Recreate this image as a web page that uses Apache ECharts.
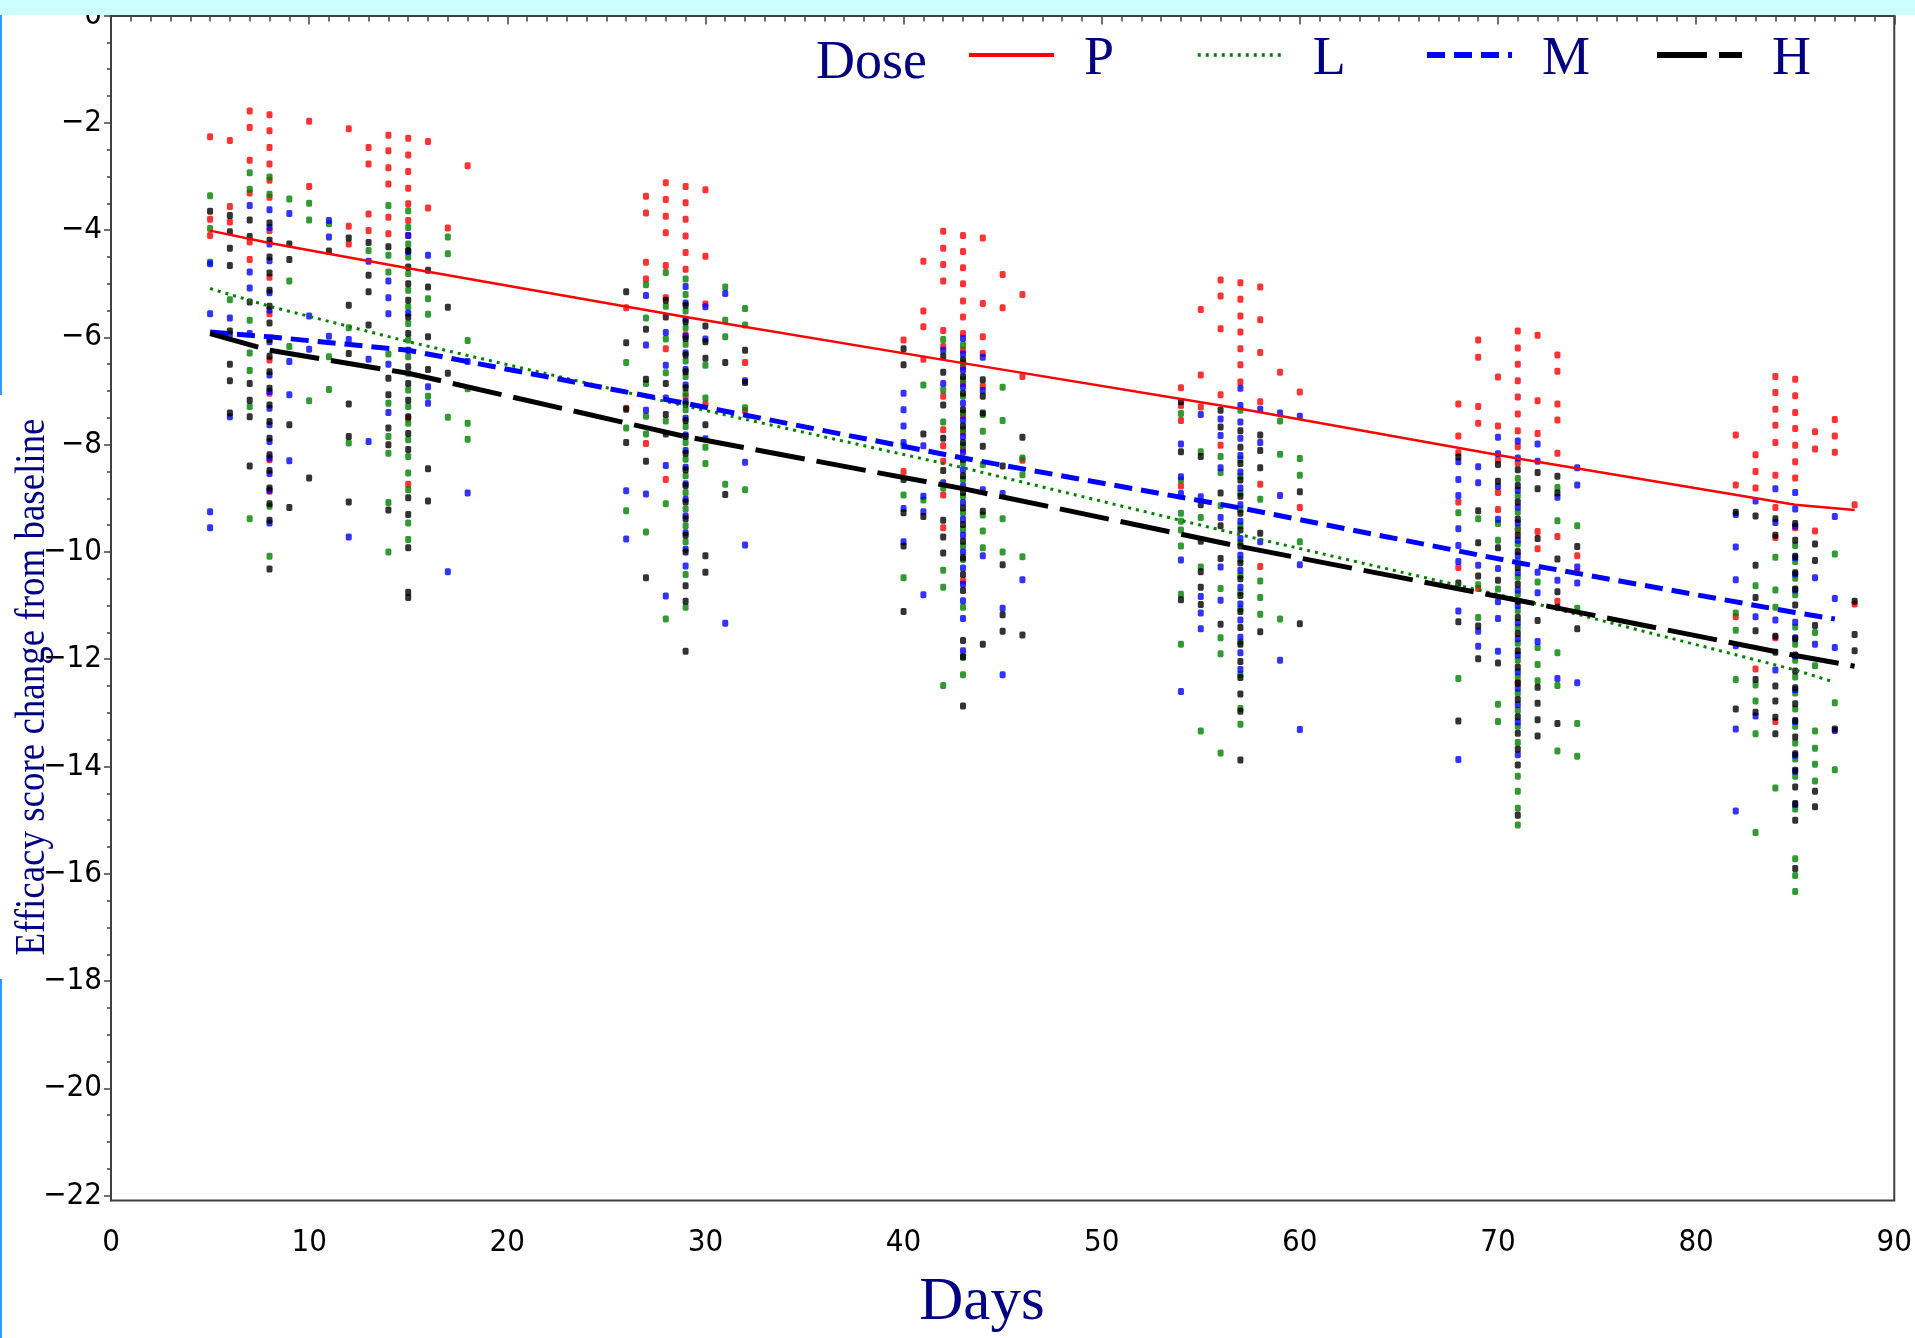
<!DOCTYPE html>
<html>
<head>
<meta charset="utf-8">
<script src="https://cdn.jsdelivr.net/npm/echarts@6/dist/echarts.min.js"></script>
<style>
html,body{margin:0;padding:0;background:#fff;}
#chart{width:1915px;height:1338px;}
</style>
</head>
<body>
<div id="chart"></div>
<script>
// ---- Data ----
const doseNames = ['P', 'L', 'M', 'H'];

// Dose P (red): observation days and values at each day
const daysP = [5,6,7,8,10,12,13,14,15,16,17,18,26,27,28,29,30,32,40,41,42,43,44,45,46,54,55,56,57,58,59,60,68,69,70,71,72,73,74,82,83,84,85,86,87,88];
const valsP = [
  [-2.26,-3.80,-4.10],[-2.33,-3.56,-3.85],[-1.78,-2.09,-2.70,-3.31,-4.22,-4.55],
  [-1.85,-2.15,-2.46,-2.77,-3.07,-3.39,-4.01,-4.88,-5.56,-6.42,-7.04,-8.28,-8.87],
  [-1.97,-3.19],[-2.11,-3.93,-4.26],[-2.46,-2.77,-3.70,-4.01],[-2.23,-2.52,-2.84,-3.14,-3.76,-4.07],
  [-2.29,-2.60,-2.91,-3.22,-3.51,-3.82,-4.10,-7.51,-8.74],[-2.35,-3.59],[-3.96],[-2.80],
  [-5.45,-7.32],[-3.37,-3.68,-4.60,-4.91,-7.98],[-3.12,-3.43,-3.74,-4.05,-4.66,-5.26,-6.21,-8.65],
  [-3.19,-3.49,-3.80,-4.11,-4.42,-4.73,-5.95,-7.10],[-3.25,-4.49,-5.38,-7.24],[-6.47,-7.37],
  [-6.05,-8.50],[-4.58,-5.51,-5.80,-6.41],[-4.02,-4.34,-4.64,-4.95,-5.87,-6.17,-7.10,-7.72,-8.02,-8.31,-8.94,-9.55],
  [-4.10,-4.40,-4.70,-5.00,-5.32,-5.62,-5.93,-6.24,-6.55,-6.86,-7.46,-7.77,-8.09,-10.54],
  [-4.15,-5.37,-5.99,-6.30,-6.91],[-4.83,-5.45],[-5.20,-6.73,-8.29],
  [-6.94,-7.27,-7.55,-8.77],[-5.48,-6.70,-7.30],[-4.93,-5.23,-5.84,-7.07,-8.01],
  [-4.98,-5.29,-5.60,-5.90,-6.21,-6.51,-6.83],[-5.06,-5.67,-6.28,-7.20,-8.74,-10.27],[-6.65],[-7.02,-9.17],
  [-7.24,-7.84,-8.15,-9.07,-10.29],[-6.05,-6.37,-7.29,-7.60,-10.68],[-6.74,-7.65,-8.28,-8.89,-9.21],
  [-5.88,-6.20,-6.50,-6.81,-7.11,-7.43,-7.74,-8.04,-8.34,-9.59,-12.44],[-5.96,-7.18,-7.79,-9.62,-9.94],
  [-6.33,-6.63,-7.24,-7.54,-8.16,-9.71,-10.92],[-10.07,-10.38],
  [-7.82,-8.75,-11.21],[-8.19,-8.50,-8.81,-12.18],[-6.73,-7.03,-7.34,-7.64,-7.96,-8.57,-9.17,-9.73,-11.60,-13.16],
  [-6.78,-7.09,-7.40,-7.70,-8.01,-8.32,-8.62,-9.55],[-7.76,-8.08,-9.61],[-7.53,-7.84,-8.14],[-9.12,-10.97]
];

// Dose L (green)
const daysL = [5,6,7,8,9,10,11,12,13,14,15,16,17,18,26,27,28,29,30,31,32,40,41,42,43,44,45,46,54,55,56,57,58,59,60,68,69,70,71,72,73,74,82,83,84,85,86,87];
const valsL = [
  [-3.36,-3.97,-4.60],[-5.30],[-2.93,-3.24,-5.68,-6.29,-6.62,-7.29,-9.38],[-3.01,-3.33,-9.15,-10.08],
  [-3.42,-4.95,-6.17],[-3.50,-3.81,-7.18],[-3.88,-6.36,-6.97],[-5.82,-7.97],[-4.38],
  [-3.54,-4.47,-4.78,-6.31,-7.23,-7.85,-8.16,-9.08,-10.00],
  [-3.64,-3.95,-4.26,-4.50,-4.81,-5.12,-5.43,-5.74,-6.05,-6.36,-6.67,-6.98,-7.29,-7.60,-7.91,-8.22,-8.53,-8.84,-9.46,-9.77],
  [-5.28,-5.57,-7.10],[-4.13,-4.44,-7.49],[-6.06,-6.96,-7.60,-7.90],
  [-6.47,-7.69,-9.23],[-5.02,-5.64,-6.86,-7.47,-7.80,-9.63],[-4.79,-5.42,-6.03,-6.66,-7.56,-9.10,-11.25],
  [-4.91,-5.20,-5.51,-5.82,-6.13,-6.44,-6.73,-7.04,-7.35,-7.66,-7.96,-8.27,-8.58,-8.89,-9.20,-9.51,-9.81,-10.42,-11.03],
  [-6.52,-7.13,-8.05,-8.35],[-5.06,-5.68,-5.99,-8.74],[-5.46,-5.77,-7.31,-8.84],
  [-8.02,-8.94,-10.48],[-6.89,-9.03],[-6.04,-6.98,-7.58,-8.81,-10.34,-10.66,-12.49],
  [-6.14,-6.48,-6.79,-7.10,-7.41,-7.72,-8.02,-8.34,-8.65,-8.96,-9.27,-9.58,-9.89,-10.14,-11.03,-11.96,-12.29],
  [-7.44,-7.75,-8.37,-9.31,-9.61,-9.92],[-6.93,-7.55,-9.38,-10.00],[-8.25,-8.56,-10.09],
  [-7.42,-8.66,-9.28,-9.43,-9.59,-9.89,-10.79,-11.72],[-8.13,-9.36,-10.28,-13.34],[-8.22,-8.52,-9.14,-10.68,-11.60,-11.90,-13.75],
  [-7.36,-8.27,-8.59,-8.90,-9.21,-9.51,-9.83,-10.14,-10.44,-10.75,-11.06,-11.68,-12.29,-12.92,-13.21],
  [-9.02,-10.54,-10.85,-11.16],[-7.56,-8.18,-11.25],[-8.26,-8.57,-9.81],
  [-9.27,-12.36],[-9.38,-10.61,-11.22],[-9.47,-9.78,-10.69,-12.84,-13.16],
  [-8.63,-8.95,-9.26,-9.56,-9.85,-10.18,-10.47,-10.79,-11.09,-11.41,-11.70,-12.02,-12.33,-12.63,-12.95,-13.25,-13.55,-14.18,-14.46,-14.78,-15.09],
  [-10.56,-11.78,-12.10,-12.40],[-8.80,-9.42,-11.88,-12.49,-13.71],[-9.51,-11.05,-13.20,-13.81],
  [-11.14,-11.46,-12.38],[-10.63,-12.48,-12.78,-13.39,-15.23],[-10.10,-10.71,-11.03,-14.40],
  [-9.88,-10.18,-10.49,-10.80,-11.40,-11.72,-12.02,-12.33,-12.63,-12.93,-13.25,-13.56,-13.86,-14.18,-14.79,-15.72,-16.03,-16.33],
  [-11.50,-12.12,-13.34,-13.66,-13.96,-14.27],[-10.04,-12.81,-14.06]
];

// Dose M (blue)
const daysM = [5,6,7,8,9,10,11,12,13,14,15,16,17,18,26,27,28,29,30,31,32,40,41,42,43,44,45,46,54,55,56,57,58,59,60,68,69,70,71,72,73,74,82,83,84,85,86,87];
const valsM = [
  [-4.63,-5.56,-9.25,-9.55],[-5.64,-5.94,-7.48],[-3.54,-4.78,-5.08,-5.93],
  [-3.62,-3.95,-4.26,-4.57,-5.17,-5.49,-6.08,-6.70,-7.01,-7.32,-7.63,-7.94,-8.25,-8.54,-8.85,-9.46],
  [-3.69,-6.45,-7.07,-8.30],[-5.60,-6.22],[-3.82,-4.13,-5.98],[-6.04,-9.72],[-4.58,-6.41,-7.94],
  [-4.95,-5.26,-5.56,-6.50,-7.40],[-4.10,-4.40,-5.55],[-4.47,-6.92,-7.23],[-10.37],[-6.45,-8.90],
  [-8.86,-9.76],[-5.22,-6.14,-7.36,-8.92],[-5.91,-6.52,-7.13,-8.39,-10.82],
  [-5.05,-5.36,-5.66,-5.98,-6.29,-6.60,-6.89,-7.20,-7.51,-7.82,-8.11,-8.42,-8.73,-9.02,-9.33,-9.64,-9.95,-10.26],
  [-5.43,-6.03,-7.89],[-5.18,-11.33],[-6.81,-8.33,-9.87],
  [-7.04,-7.35,-7.65,-7.96,-9.19,-9.81],[-8.02,-8.96,-9.25,-10.80],[-6.24,-6.86,-8.71],
  [-6.02,-6.31,-6.61,-6.92,-7.23,-7.54,-7.85,-8.14,-8.47,-8.77,-9.08,-9.39,-9.69,-10.00,-10.30,-10.60,-10.91,-11.24,-11.84],
  [-6.37,-6.99,-8.84,-10.07],[-8.91,-11.05,-12.29],[-10.52],
  [-7.99,-8.60,-8.91,-10.15,-12.60],[-7.44,-8.97,-10.83,-11.14,-11.43],[-7.52,-7.83,-8.43,-9.36,-10.28,-10.90],
  [-6.95,-7.27,-7.58,-7.88,-8.20,-8.51,-8.81,-9.12,-9.43,-9.75,-10.06,-10.34,-10.66,-10.97,-11.27,-11.59,-11.88,-12.19],
  [-7.34,-7.96,-9.81],[-7.41,-8.95,-12.02],[-7.47,-10.24,-13.31],
  [-8.32,-8.65,-8.95,-9.57,-9.88,-10.18,-11.10,-13.87],[-8.41,-8.71,-10.25,-11.48,-11.76],
  [-7.86,-8.17,-8.78,-9.39,-10.31,-10.93,-11.24,-11.85],
  [-7.93,-8.25,-8.85,-9.16,-9.46,-9.78,-10.07,-10.39,-10.71,-11.00,-11.32,-11.62,-11.92,-12.24,-12.54,-12.85,-13.17,-13.78],
  [-7.99,-8.31,-10.38,-10.76,-11.67],[-8.98,-10.53,-12.36],[-8.43,-8.75,-10.28,-10.58,-12.44],
  [-9.30,-9.91,-10.52,-11.75,-13.30,-14.83],[-9.05,-11.21,-13.06],[-8.82,-9.45,-11.27,-12.20],
  [-8.89,-9.20,-9.52,-10.11,-10.41,-10.71,-11.31,-11.60,-11.94,-12.57,-13.16,-13.79,-14.09,-14.71],
  [-10.48,-11.72],[-9.34,-10.87,-11.78,-13.33]
];

// Dose H (black)
const daysH = [5,6,7,8,9,10,11,12,13,14,15,16,17,26,27,28,29,30,31,32,40,41,42,43,44,45,46,54,55,56,57,58,60,68,69,70,71,72,73,74,82,83,84,85,86,87,88];
const valsH = [
  [-3.65],[-3.73,-4.03,-4.34,-4.66,-5.88,-6.50,-6.81,-7.41],[-3.81,-4.12,-5.34,-6.86,-7.17,-7.48,-8.40],
  [-3.87,-4.19,-4.50,-4.80,-5.12,-5.42,-5.73,-6.04,-6.35,-6.64,-6.95,-7.26,-7.57,-7.88,-8.19,-8.48,-8.81,-9.10,-9.41,-10.32],
  [-4.26,-4.55,-7.63,-9.17],[-8.62],[-4.39],[-4.15,-5.40,-6.30,-7.24,-7.85,-9.07],[-4.23,-4.84,-5.15,-5.77],
  [-4.31,-6.76,-7.07,-7.69,-8.00,-9.22],
  [-4.38,-4.69,-5.00,-5.31,-5.62,-5.93,-6.24,-6.55,-6.86,-7.17,-7.48,-7.79,-8.09,-8.99,-9.30,-9.92,-10.75,-10.85],
  [-4.75,-5.06,-5.99,-6.60,-8.45,-9.05],[-5.44,-6.67],
  [-5.15,-6.10,-7.34,-7.96],[-5.85,-6.78,-8.31,-10.48],[-5.31,-5.62,-6.86,-7.44,-7.80],
  [-5.40,-5.71,-6.02,-6.33,-6.64,-6.94,-7.24,-7.55,-7.85,-8.16,-8.47,-8.76,-9.07,-9.38,-9.69,-10.00,-10.63,-10.92,-11.85],
  [-5.79,-6.08,-6.39,-7.63,-10.07,-10.38],[-6.47,-8.93],[-6.24,-6.84],
  [-6.21,-6.51,-8.65,-9.27,-9.89,-11.11],[-7.80,-9.34],[-6.35,-6.65,-7.26,-7.88,-8.48,-9.41,-9.72,-10.02],
  [-6.42,-6.73,-7.04,-7.35,-7.65,-7.96,-8.27,-8.58,-8.89,-9.18,-9.49,-9.80,-10.11,-10.42,-10.72,-11.65,-11.96,-12.87],
  [-6.79,-7.10,-7.41,-8.03,-9.24,-11.72],[-8.40,-10.24,-11.17,-11.48],[-7.86,-11.55],
  [-7.20,-8.13,-10.89],[-8.22,-9.12,-9.80,-10.37,-10.66,-10.98],[-7.36,-7.67,-8.90,-9.51,-10.12,-11.35],
  [-7.74,-8.05,-8.35,-8.66,-8.96,-9.28,-9.59,-9.89,-10.20,-10.50,-10.81,-11.11,-11.41,-11.72,-12.04,-12.34,-12.65,-12.97,-13.88],
  [-7.82,-8.11,-8.43,-9.65,-11.49],[-8.88,-11.34],
  [-8.23,-10.58,-11.30,-13.15],[-9.23,-9.83,-10.45,-11.38,-11.99],[-8.37,-8.68,-9.92,-10.53,-12.07],
  [-8.47,-8.76,-9.07,-9.39,-9.69,-9.99,-10.29,-10.60,-10.92,-11.22,-11.52,-11.84,-12.15,-12.45,-12.75,-13.07,-13.38,-13.68,-13.97,-14.91],
  [-8.52,-8.82,-9.75,-11.28,-12.52,-12.82,-13.13,-13.43],[-8.59,-8.90,-10.13,-10.74,-11.03,-13.20],[-9.90,-11.43],
  [-9.26,-12.93],[-9.33,-10.25,-10.85,-11.47,-12.38,-12.99],[-9.38,-9.69,-11.57,-11.87,-12.50,-12.78,-13.08,-13.39],
  [-9.47,-9.78,-10.08,-10.39,-10.69,-10.99,-11.62,-11.92,-12.22,-12.53,-12.83,-13.14,-13.45,-13.76,-14.07,-14.38,-14.69,-15.00,-15.90],
  [-9.85,-10.16,-11.37,-14.46,-14.75],[-13.30],[-10.92,-11.54,-11.84]
];

// Fitted trend lines (day, value)
const lineP = [[5,-4.01],[8,-4.24],[15,-4.71],[29,-5.62],[43,-6.48],[57,-7.33],[71,-8.26],[85,-9.12],[88,-9.22]];
const lineL = [[5,-5.09],[8,-5.42],[15,-6.08],[29,-7.28],[43,-8.43],[57,-9.68],[71,-10.88],[85,-12.20],[87,-12.43]];
const lineM = [[5,-5.90],[8,-5.99],[15,-6.24],[29,-7.23],[43,-8.25],[57,-9.18],[71,-10.20],[85,-11.13],[87,-11.25]];
const lineH = [[5,-5.93],[8,-6.24],[15,-6.67],[29,-7.85],[43,-8.82],[57,-9.90],[71,-10.90],[85,-11.93],[88,-12.13]];

// Axis ticks
const yMajorTicks = [-22,-20,-18,-16,-14,-12,-10,-8,-6,-4,-2,0];
const yMinorTicks = [-21.5,-21,-20.5,-19.5,-19,-18.5,-17.5,-17,-16.5,-15.5,-15,-14.5,-13.5,-13,-12.5,-11.5,-11,-10.5,
  -9.5,-9,-8.5,-7.5,-7,-6.5,-5.5,-5,-4.5,-3.5,-3,-2.5,-1.5,-1,-0.5];

const xTitle = 'Days';
const yTitle = 'Efficacy score change from baseline';
const legendTitle = 'Dose';

// ---- Build chart ----
function toPoints(days, vals) {
  const out = [];
  days.forEach((d, i) => vals[i].forEach(v => out.push([d, v])));
  return out;
}
const colors = { P: '#ff0000', L: '#008000', M: '#0000ff', H: '#000000' };
const pointSets = { P: toPoints(daysP, valsP), L: toPoints(daysL, valsL), M: toPoints(daysM, valsM), H: toPoints(daysH, valsH) };
const lineSets = { P: lineP, L: lineL, M: lineM, H: lineH };
const lineStyles = {
  P: { width: 2.5, type: 'solid', legendWidth: 4 },
  L: { width: 3, type: [3, 5], legendWidth: 3.5 },
  M: { width: 5, type: [18, 9], legendWidth: 6 },
  H: { width: 5, type: [50, 12], legendWidth: 6 }
};

const tickFont = '"Liberation Sans Narrow", "DejaVu Sans Condensed", sans-serif';
const serif = '"Liberation Serif", "DejaVu Serif", serif';
const navy = '#000080';
const axisColor = '#404040';
const yMin = -22.09;

const series = [];
doseNames.forEach(n => {
  series.push({
    name: n + ' obs', type: 'scatter', data: pointSets[n],
    symbol: 'roundRect', symbolSize: [6, 7],
    itemStyle: { color: colors[n] }, z: 2, silent: true
  });
});
doseNames.forEach(n => {
  series.push({
    name: n, type: 'line', data: lineSets[n], symbol: 'none', showSymbol: false,
    lineStyle: { color: colors[n], width: lineStyles[n].width, type: lineStyles[n].type, cap: 'butt' },
    itemStyle: { color: colors[n] }, z: 4, silent: true
  });
});

const legendLefts = [962, 1191, 1419, 1649];
const legends = doseNames.map((n, i) => ({
  data: [n], left: legendLefts[i], top: 28, orient: 'horizontal',
  itemWidth: 85, itemHeight: 20, selectedMode: false,
  itemStyle: { opacity: 0 },
  lineStyle: { width: lineStyles[n].legendWidth, type: lineStyles[n].type, color: colors[n] },
  formatter: '{t|{name}}',
  textStyle: {
    fontFamily: serif, fontSize: 54, color: navy,
    rich: { t: { fontFamily: serif, fontSize: 54, color: navy, padding: [10, 0, 0, 25] } }
  }
}));

const chart = echarts.init(document.getElementById('chart'), null, { renderer: 'canvas' });
chart.setOption({
  animation: false,
  backgroundColor: '#ffffff',
  grid: { left: 111, right: 13, top: 10.8, bottom: 137.5, show: true, borderColor: axisColor, borderWidth: 2, backgroundColor: 'transparent' },
  xAxis: {
    type: 'value', min: 0, max: 90, interval: 10,
    axisLine: { show: true, lineStyle: { color: axisColor, width: 2 } },
    axisTick: { show: true, length: 9, lineStyle: { color: axisColor, width: 1.5 } },
    minorTick: { show: true, splitNumber: 10, length: 6, lineStyle: { color: axisColor, width: 1.5 } },
    splitLine: { show: false },
    axisLabel: { fontFamily: tickFont, fontSize: 31, color: '#000', margin: 27 }
  },
  yAxis: [
    {
      type: 'value', min: yMin, max: 0,
      axisLine: { show: true, lineStyle: { color: axisColor, width: 2 } },
      axisTick: { show: true, length: 7, customValues: yMajorTicks, lineStyle: { color: axisColor, width: 1.5 } },
      splitLine: { show: false },
      axisLabel: { fontFamily: tickFont, fontSize: 31, color: '#000', margin: 9, customValues: yMajorTicks,
        formatter: v => String(v).replace('-', '\u2212') }
    },
    {
      type: 'value', min: yMin, max: 0, position: 'left',
      axisLine: { show: false },
      axisTick: { show: true, length: 4, customValues: yMinorTicks, lineStyle: { color: axisColor, width: 1.5 } },
      splitLine: { show: false },
      axisLabel: { show: false }
    }
  ],
  legend: legends,
  graphic: [
    { type: 'rect', left: 0, top: 0, z: 100, shape: { width: 1915, height: 15 }, style: { fill: '#ccffff' } },
    { type: 'rect', x: 0, y: 15, z: 1, shape: { width: 2, height: 380 }, style: { fill: '#3399ff' } },
    { type: 'rect', x: 0, y: 979, z: 1, shape: { width: 2, height: 359 }, style: { fill: '#3399ff' } },
    { type: 'text', x: 33, y: 687, rotation: Math.PI / 2, scaleX: 0.88, z: 5,
      style: { text: yTitle, fill: navy, font: '42px ' + serif, align: 'center', verticalAlign: 'middle' } },
    { type: 'text', x: 982, y: 1303, z: 5,
      style: { text: xTitle, fill: navy, font: '61px ' + serif, align: 'center', verticalAlign: 'middle' } },
    { type: 'text', x: 816, y: 64, z: 5,
      style: { text: legendTitle, fill: navy, font: '54px ' + serif, align: 'left', verticalAlign: 'middle' } }
  ],
  series: series
});
</script>
</body>
</html>
